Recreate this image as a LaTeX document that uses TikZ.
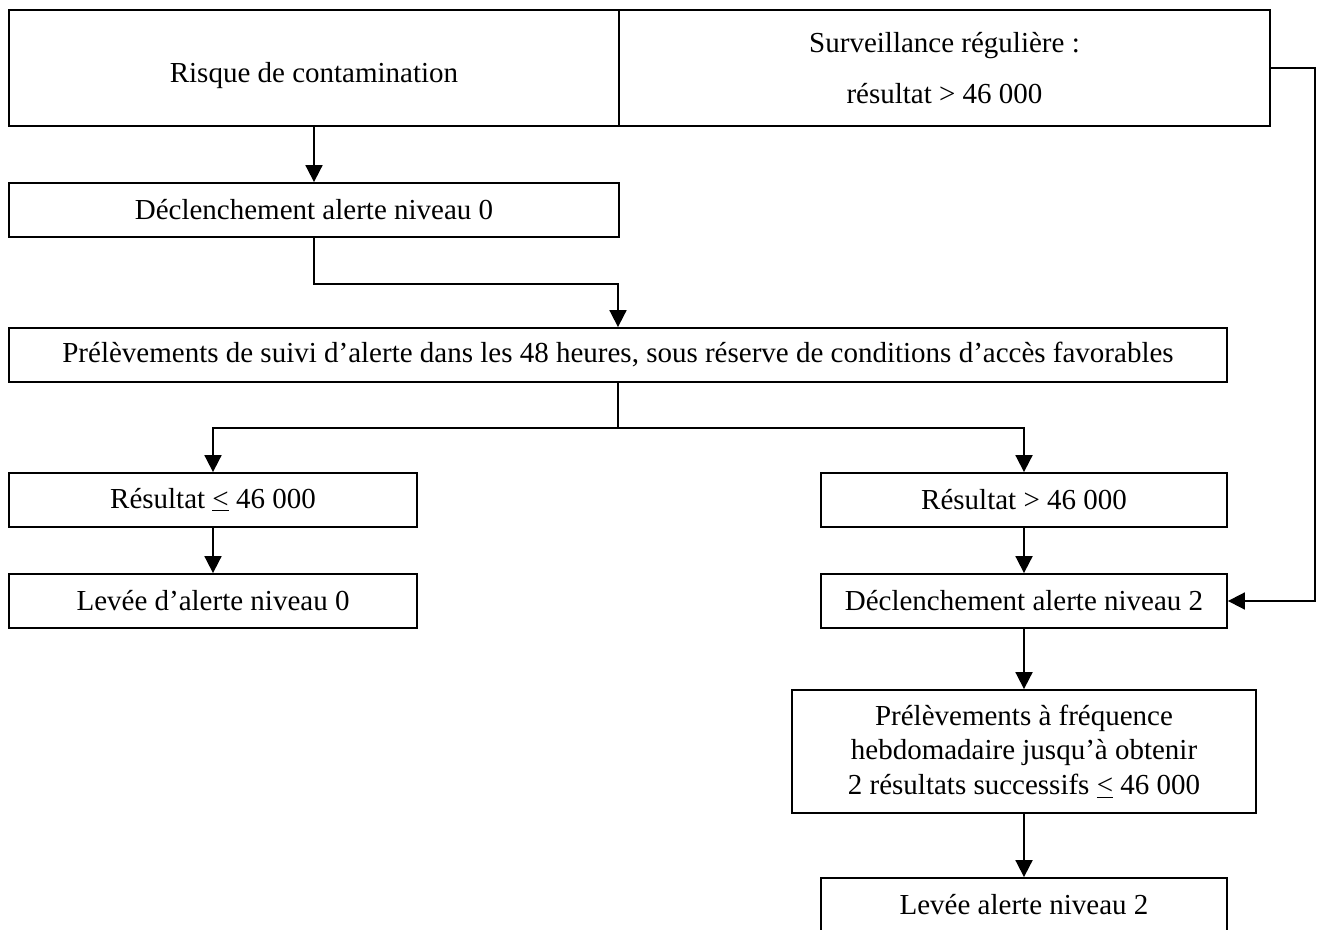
\documentclass[tikz,border=0pt]{standalone}
\usepackage{fontspec}
\setmainfont{Liberation Serif}
\usetikzlibrary{arrows.meta,positioning,calc}
\newcommand{\infeg}{\underline{<}}

\begin{document}
\begin{tikzpicture}[x=0.5pt, y=-0.5pt, font=\fontsize{14.5}{17.25}\selectfont, >={Triangle[length=8.5pt,width=8.5pt]},
  b/.style={draw, line width=0.9pt, inner sep=0pt, align=center, minimum height=27pt},
  w/.style={->, line width=0.9pt},
  l/.style={line width=0.9pt}]
  \useasboundingbox (0,0) rectangle (1322,930);
  % top row
  \node[b, minimum width=305pt, minimum height=58pt, text height=17.3pt, text depth=3pt] (risk) at (314,68) {Risque de contamination};
  \node[b, minimum width=325.5pt, minimum height=58pt] (surv) at (944.5,68) {Surveillance régulière :\\[8.25pt]résultat > 46 000};
  \node[b, minimum width=305pt] (alert0) at (314,210) {Déclenchement alerte niveau 0};
  \node[b, minimum width=609pt] (suivi) at (618,355) {Prélèvements de suivi d’alerte dans les 48 heures, sous réserve de conditions d’accès favorables};
  % two branches
  \node[b, minimum width=204pt] (low) at (213,500) {Résultat \infeg{} 46 000};
  \node[b, minimum width=203pt] (high) at (1024,500) {Résultat > 46 000};
  \node[b, minimum width=204pt] (lift0) at (213,601) {Levée d’alerte niveau 0};
  \node[b, minimum width=203pt] (alert2) at (1024,601) {Déclenchement alerte niveau 2};
  \node[b, minimum width=232pt, minimum height=61.5pt] (hebdo) at (1024,751.5) {Prélèvements à fréquence\\hebdomadaire jusqu’à obtenir\\2 résultats successifs \infeg{} 46 000};
  \node[b, minimum width=203pt] (lift2) at (1024,905) {Levée alerte niveau 2};
  % connectors
  \draw[w] (risk.south) -- (alert0.north);
  \draw[w] (alert0.south) -- ++(0,46) -| (suivi.north);
  \draw[l] (suivi.south) -- ++(0,45) coordinate (split);
  \draw[w] (split) -| (low.north);
  \draw[w] (split) -| (high.north);
  \draw[w] (low) -- (lift0);
  \draw[w] (high) -- (alert2);
  \draw[w] (alert2) -- (hebdo);
  \draw[w] (hebdo) -- (lift2);
  \draw[w] (surv.east) -- ++(44,0) |- (alert2.east);
\end{tikzpicture}
\end{document}
